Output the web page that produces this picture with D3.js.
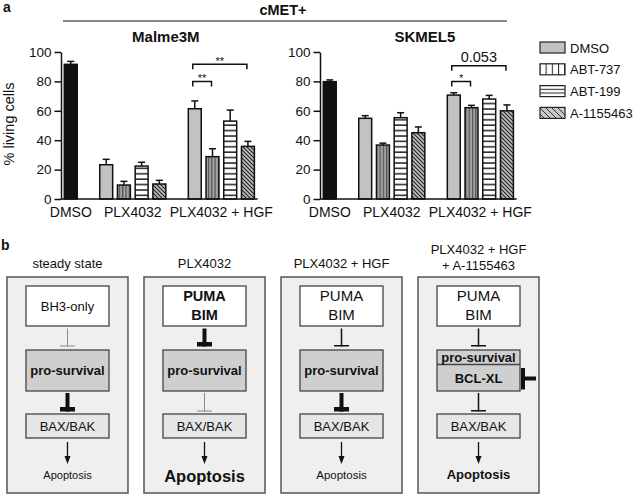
<!DOCTYPE html>
<html><head><meta charset="utf-8">
<script src="https://cdn.jsdelivr.net/npm/d3@7"></script>
<style>
html,body{margin:0;padding:0;background:#fff;}
text{font-family:"Liberation Sans",Arial,sans-serif;fill:#111;}
</style></head>
<body>
<svg id="chart" width="635" height="495"></svg>
<script>
// ---------------- DATA ----------------
const categories = ["DMSO", "PLX4032", "PLX4032 + HGF"];
const series = ["DMSO", "ABT-737", "ABT-199", "A-1155463"];
const yTicks = [0, 20, 40, 60, 80, 100];

const malmeValues = [[91.6], [23.3, 9.5, 22.4, 10.2], [61.4, 28.8, 53.0, 35.8]];
const malmeErrors = [[2.0], [3.7, 2.5, 2.6, 2.5], [5.3, 5.4, 7.5, 3.4]];
const skmelValues = [[79.8], [54.9, 36.7, 55.3, 45.1], [70.7, 62.1, 68.0, 60.0]];
const skmelErrors = [[1.2], [1.8, 1.3, 3.4, 3.9], [1.6, 1.6, 2.5, 4.0]];

const malmeSig = [
  {group: 2, from: 0, to: 1, y: 80, label: "**"},
  {group: 2, from: 0, to: 3, y: 91.6, label: "**"}
];
const skmelSig = [
  {group: 2, from: 0, to: 1, y: 80, label: "*"},
  {group: 2, from: 0, to: 3, y: 90.7, label: "0.053"}
];

const panelTitles = [["steady state"], ["PLX4032"], ["PLX4032 + HGF"], ["PLX4032 + HGF", "+ A-1155463"]];
const topBoxTexts = [["BH3-only"], ["PUMA", "BIM"], ["PUMA", "BIM"], ["PUMA", "BIM"]];
const topBoxBold = [false, true, false, false];
const inhibitTop = ["faint", "strong", "weak", "weak"];
const inhibitBottom = ["strong", "faint", "strong", "weak"];
const apoptosisStyle = ["small", "large", "normal", "bold"];

// ---------------- SETUP ----------------
const svg = d3.select("#chart");
const defs = svg.append("defs");

function pattern(id, w, h, bg, draw) {
  const p = defs.append("pattern").attr("id", id).attr("patternUnits", "userSpaceOnUse")
    .attr("width", w).attr("height", h);
  p.append("rect").attr("width", w).attr("height", h).attr("fill", bg);
  draw(p);
}
pattern("bVert", 3.3, 10, "#a3a3a3", p => p.append("line").attr("x1", 0.6).attr("x2", 0.6).attr("y1", 0).attr("y2", 10).attr("stroke", "#4a4a4a").attr("stroke-width", 1.1));
pattern("bHoriz", 10, 5.4, "#fff", p => p.append("line").attr("x1", 0).attr("x2", 10).attr("y1", 1).attr("y2", 1).attr("stroke", "#111").attr("stroke-width", 1.4));
pattern("bDiag", 4, 4, "#bcbcbc", p => {
  p.append("path").attr("d", "M-1,-1 L5,5 M-1,3 L1,5 M3,-1 L5,1").attr("stroke", "#222").attr("stroke-width", 1.1);
});
pattern("lVert", 6.2, 10, "#fff", p => p.append("line").attr("x1", 0.5).attr("x2", 0.5).attr("y1", 0).attr("y2", 10).attr("stroke", "#222").attr("stroke-width", 1));
pattern("lHoriz", 10, 3.7, "#fff", p => p.append("line").attr("x1", 0).attr("x2", 10).attr("y1", 0.5).attr("y2", 0.5).attr("stroke", "#222").attr("stroke-width", 1));
pattern("lDiag", 6, 6, "#c8c8c8", p => {
  p.append("path").attr("d", "M-1.5,-1.5 L7.5,7.5 M-1.5,4.5 L1.5,7.5 M4.5,-1.5 L7.5,1.5").attr("stroke", "#333").attr("stroke-width", 1);
});
const barFill = ["#c2c2c2", "url(#bVert)", "url(#bHoriz)", "url(#bDiag)"];
const legFill = ["#c2c2c2", "url(#lVert)", "url(#lHoriz)", "url(#lDiag)"];

// panel label a
svg.append("text").attr("x", 3).attr("y", 12).attr("font-size", 14).attr("font-weight", "bold").text("a");
svg.append("text").attr("x", 283).attr("y", 15).attr("text-anchor", "middle").attr("font-size", 14.5).attr("font-weight", "bold").text("cMET+");
svg.append("line").attr("x1", 63).attr("x2", 507).attr("y1", 21).attr("y2", 21).attr("stroke", "#111").attr("stroke-width", 1.2);

svg.append("text").attr("transform", "translate(13.5,124) rotate(-90)").attr("text-anchor", "middle")
  .attr("font-size", 14.5).text("% living cells");

const y = d3.scaleLinear().domain([0, 100]).range([199, 52]);

function slotsFor(values) {
  const out = []; let start = 0;
  values.forEach((g, gi) => { out.push(start); start += g.length + 1; });
  return {starts: out, total: start - 1};
}

function drawChart(x0, title, values, errors, sigs) {
  const {starts, total} = slotsFor(values);
  const xs = d3.scaleBand().domain(d3.range(total)).range([x0 + 1, x0 + 1 + total * 17.7])
    .paddingInner(0.27).paddingOuter(0.13);
  const g = svg.append("g");
  const rng = xs.range();
  // title
  g.append("text").attr("x", (x0 + rng[1]) / 2 + 7).attr("y", 42).attr("text-anchor", "middle")
    .attr("font-size", 15).attr("font-weight", "bold").text(title);
  // y axis
  const ax = g.append("g").attr("transform", `translate(${x0},0)`)
    .call(d3.axisLeft(y).tickValues(yTicks).tickSize(6.5).tickPadding(3).tickSizeOuter(0));
  ax.select(".domain").attr("stroke", "#111").attr("stroke-width", 1.5);
  ax.selectAll(".tick line").attr("stroke", "#111").attr("stroke-width", 1.5);
  ax.selectAll(".tick text").attr("font-size", 13.5).attr("font-family", "Liberation Sans, Arial, sans-serif").attr("fill", "#111");
  // bars
  const bars = [];
  values.forEach((grp, gi) => grp.forEach((v, i) => bars.push({gi, i, v, e: errors[gi][i], slot: starts[gi] + i})));
  // error bars
  bars.forEach(b => {
    const cx = xs(b.slot) + xs.bandwidth() / 2;
    g.append("line").attr("x1", cx).attr("x2", cx).attr("y1", y(b.v)).attr("y2", y(b.v + b.e)).attr("stroke", "#111").attr("stroke-width", 1.5);
    g.append("line").attr("x1", cx - 3.5).attr("x2", cx + 3.5).attr("y1", y(b.v + b.e)).attr("y2", y(b.v + b.e)).attr("stroke", "#111").attr("stroke-width", 1.5);
  });
  g.selectAll("rect.bar").data(bars).join("rect").attr("class", "bar")
    .attr("x", d => xs(d.slot)).attr("width", xs.bandwidth())
    .attr("y", d => y(d.v)).attr("height", d => y(0) - y(d.v))
    .attr("fill", d => d.gi === 0 ? "#111" : barFill[d.i])
    .attr("stroke", "#111").attr("stroke-width", 1.5);
  // baseline
  g.append("line").attr("x1", x0).attr("x2", rng[1] + 1).attr("y1", y(0)).attr("y2", y(0)).attr("stroke", "#111").attr("stroke-width", 1.5);
  // category labels
  categories.forEach((c, gi) => {
    const a = xs(starts[gi]), b = xs(starts[gi] + values[gi].length - 1) + xs.bandwidth();
    g.append("text").attr("x", (a + b) / 2).attr("y", 216.5).attr("text-anchor", "middle").attr("font-size", 14).text(c);
  });
  // significance brackets
  sigs.forEach(s => {
    const xa = xs(starts[s.group] + s.from) + xs.bandwidth() / 2 - 2;
    const xb = xs(starts[s.group] + s.to) + xs.bandwidth() / 2 - 1;
    const yy = y(s.y);
    g.append("path").attr("d", `M${xa},${yy + 5} V${yy} H${xb} V${yy + 5}`).attr("fill", "none").attr("stroke", "#111").attr("stroke-width", 1.5);
    const big = s.label.length > 2;
    g.append("text").attr("x", (xa + xb) / 2).attr("y", big ? yy - 4 : yy + 1).attr("text-anchor", "middle")
      .attr("font-size", big ? 14.5 : 11).text(s.label);
  });
}
drawChart(61, "Malme3M", malmeValues, malmeErrors, malmeSig);
drawChart(320, "SKMEL5", skmelValues, skmelErrors, skmelSig);

// legend
const leg = svg.append("g");
series.forEach((s, i) => {
  const yy = 42 + i * 21.8;
  leg.append("rect").attr("x", 540).attr("y", yy).attr("width", 25).attr("height", 11)
    .attr("fill", legFill[i]).attr("stroke", "#222").attr("stroke-width", 1.2);
  leg.append("text").attr("x", 570).attr("y", yy + 10.5).attr("font-size", 13).text(s);
});

// ---------------- PANEL b ----------------
svg.append("text").attr("x", 1).attr("y", 250).attr("font-size", 14).attr("font-weight", "bold").text("b");
const px = d3.scaleBand().domain(d3.range(4)).range([7, 539]).paddingInner(0.117);

function inhibit(g, cx, y1, y2, kind) {
  const col = kind === "faint" ? "#8a8a8a" : "#111";
  const sw = kind === "strong" ? 4.5 : (kind === "faint" ? 1 : 1.5);
  g.append("line").attr("x1", cx).attr("x2", cx).attr("y1", y1).attr("y2", y2).attr("stroke", col).attr("stroke-width", kind === "strong" ? 4 : sw);
  g.append("line").attr("x1", cx - 7.5).attr("x2", cx + 7.5).attr("y1", y2 - sw / 2).attr("y2", y2 - sw / 2).attr("stroke", col).attr("stroke-width", sw);
}

d3.range(4).forEach(k => {
  const g = svg.append("g");
  const x0 = px(k), w = px.bandwidth(), cx = x0 + w / 2;
  // title
  const t = panelTitles[k];
  t.forEach((line, li) => {
    g.append("text").attr("x", cx).attr("y", t.length === 1 ? 268 : 254 + li * 16).attr("text-anchor", "middle").attr("font-size", 13).text(line);
  });
  g.append("rect").attr("x", x0).attr("y", 277).attr("width", w).attr("height", 216)
    .attr("fill", "#efefef").attr("stroke", "#555").attr("stroke-width", 1.5);
  const bx = cx - 41.5, bw = 83;
  // top box
  g.append("rect").attr("x", bx).attr("y", 286).attr("width", bw).attr("height", 40).attr("fill", "#fff").attr("stroke", "#444").attr("stroke-width", 1.3);
  const tb = topBoxTexts[k];
  if (tb.length === 1) {
    g.append("text").attr("x", cx).attr("y", 310.5).attr("text-anchor", "middle").attr("font-size", 13).text(tb[0]);
  } else {
    tb.forEach((line, li) => g.append("text").attr("x", cx).attr("y", 301 + li * 18.5).attr("text-anchor", "middle")
      .attr("font-size", topBoxBold[k] ? 14.5 : 15).attr("font-weight", topBoxBold[k] ? "bold" : "normal").text(line));
  }
  // pro-survival
  g.append("rect").attr("x", bx).attr("y", 350).attr("width", bw).attr("height", 41).attr("fill", "#cfcfcf").attr("stroke", "#444").attr("stroke-width", 1.3);
  if (k === 3) {
    g.append("line").attr("x1", bx).attr("x2", bx + bw).attr("y1", 364.5).attr("y2", 364.5).attr("stroke", "#444").attr("stroke-width", 1.3);
    g.append("text").attr("x", cx).attr("y", 361.8).attr("text-anchor", "middle").attr("font-size", 13).attr("font-weight", "bold").text("pro-survival");
    g.append("text").attr("x", cx).attr("y", 382.5).attr("text-anchor", "middle").attr("font-size", 13).attr("font-weight", "bold").text("BCL-XL");
    // side inhibitor on BCL-XL
    g.append("line").attr("x1", bx + bw + 3).attr("x2", bx + bw + 16).attr("y1", 378.5).attr("y2", 378.5).attr("stroke", "#111").attr("stroke-width", 4);
    g.append("line").attr("x1", bx + bw + 3).attr("x2", bx + bw + 3).attr("y1", 368).attr("y2", 389.5).attr("stroke", "#111").attr("stroke-width", 4);
  } else {
    g.append("text").attr("x", cx).attr("y", 374.5).attr("text-anchor", "middle").attr("font-size", 13).attr("font-weight", "bold").text("pro-survival");
  }
  // BAX/BAK
  g.append("rect").attr("x", bx).attr("y", 414).attr("width", bw).attr("height", 24).attr("fill", "#e6e6e6").attr("stroke", "#444").attr("stroke-width", 1.3);
  g.append("text").attr("x", cx).attr("y", 430.5).attr("text-anchor", "middle").attr("font-size", 13).text("BAX/BAK");
  // inhibitions
  inhibit(g, cx, 328.5, 346.5, inhibitTop[k]);
  inhibit(g, cx, 393, 411.5, inhibitBottom[k]);
  // arrow
  g.append("line").attr("x1", cx).attr("x2", cx).attr("y1", 442).attr("y2", 457).attr("stroke", "#111").attr("stroke-width", 1.3);
  g.append("path").attr("d", `M${cx - 3},${456} L${cx + 3},${456} L${cx},${464} Z`).attr("fill", "#111");
  // apoptosis
  const st = apoptosisStyle[k];
  const sz = {small: 11, large: 16.5, normal: 11.5, bold: 13}[st];
  g.append("text").attr("x", cx).attr("y", st === "large" ? 481.5 : 478.5).attr("text-anchor", "middle")
    .attr("font-size", sz).attr("font-weight", (st === "large" || st === "bold") ? "bold" : "normal").text("Apoptosis");
});
</script>
</body></html>
